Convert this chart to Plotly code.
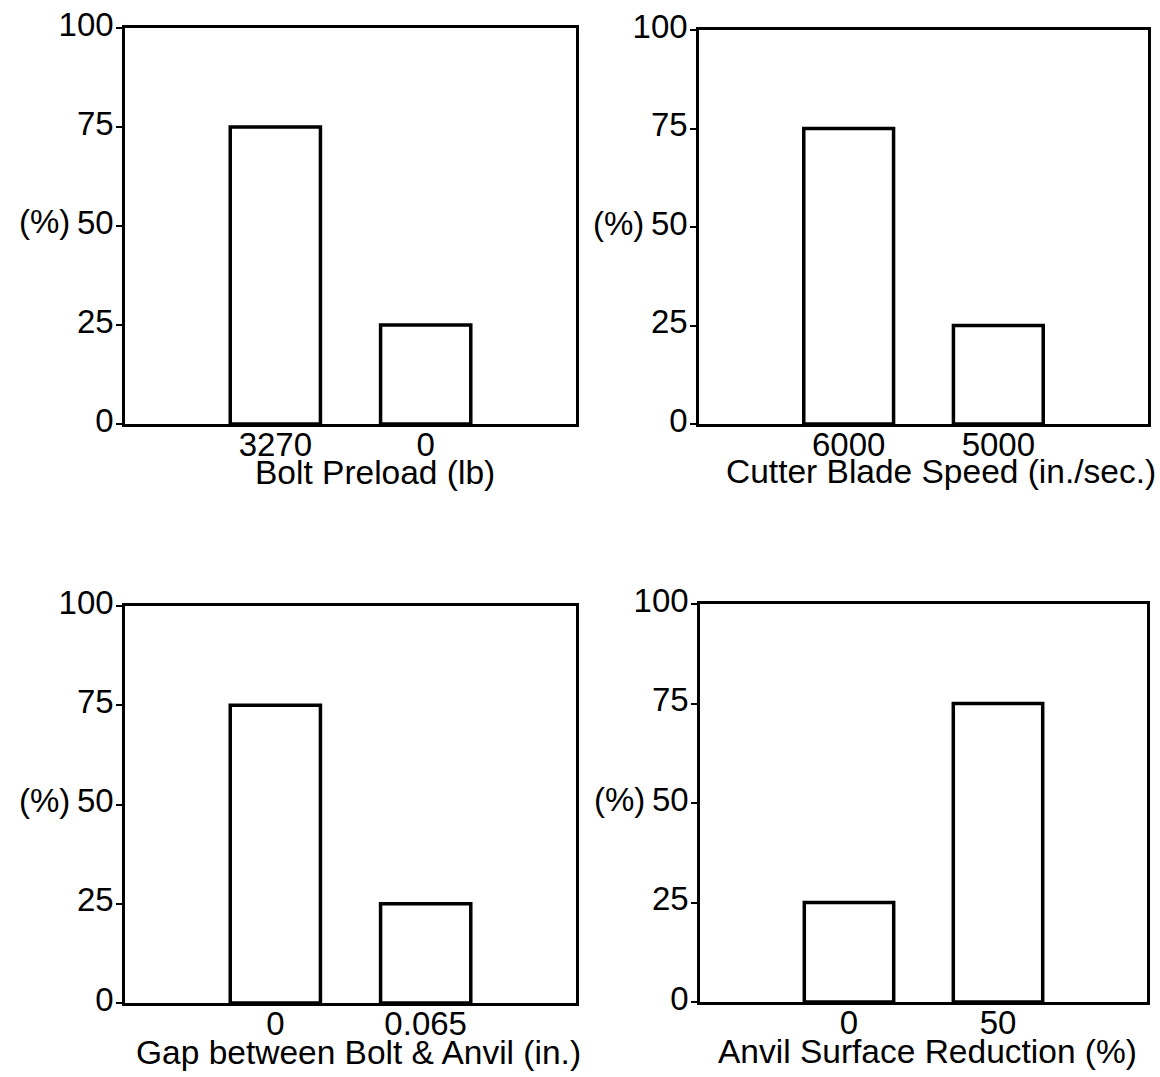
import plotly.graph_objects as go

# ---- data ----
panel_titles = [
    "Bolt Preload (lb)",
    "Cutter Blade Speed (in./sec.)",
    "Gap between Bolt & Anvil (in.)",
    "Anvil Surface Reduction (%)",
]
panel_categories = [
    ["3270", "0"],
    ["6000", "5000"],
    ["0", "0.065"],
    ["0", "50"],
]
panel_values = [
    [75, 25],
    [75, 25],
    [75, 25],
    [25, 75],
]
y_ticks = [0, 25, 50, 75, 100]
y_label = "(%)"

# ---- layout geometry (pixels of a 1160x1077 canvas) ----
W, H = 1160, 1077
boxes = [  # left, right, top, bottom
    (125, 576, 28, 424),
    (699, 1148, 30, 424),
    (125, 576, 606, 1003),
    (700, 1147, 604, 1002),
]
title_shift = [(24, 48), (17, 48), (8, 49), (4, 49)]

FONT = dict(family="Liberation Sans, Arial, Helvetica, sans-serif", size=33, color="black")
TFONT = dict(FONT, size=33.5)

fig = go.Figure()
layout = dict(
    width=W, height=H, autosize=False,
    margin=dict(l=0, r=0, t=0, b=0, pad=0),
    paper_bgcolor="white", plot_bgcolor="white",
    showlegend=False, font=FONT, annotations=[],
)

for i in range(4):
    n = "" if i == 0 else str(i + 1)
    l, r, t, b = boxes[i]
    fig.add_trace(go.Bar(
        x=panel_categories[i], y=panel_values[i],
        xaxis="x" + n, yaxis="y" + n,
        width=0.6,
        marker=dict(color="white", line=dict(color="black", width=3.5)),
        hoverinfo="x+y",
    ))
    layout["xaxis" + n] = dict(
        domain=[l / W, r / W], anchor="y" + n, type="category",
        range=[-1, 2], showline=True, mirror=True,
        linecolor="black", linewidth=2.5, showgrid=False, zeroline=False,
        ticks="", tickfont=FONT, fixedrange=True, automargin=False,
        ticklabelstandoff=-10,
    )
    layout["yaxis" + n] = dict(
        domain=[1 - b / H, 1 - t / H], anchor="x" + n,
        range=[0, 100], tickvals=y_ticks, ticktext=[str(v) for v in y_ticks],
        showline=True, mirror=True, linecolor="black", linewidth=2.5,
        showgrid=False, zeroline=False, ticks="outside", ticklen=6,
        tickwidth=2, tickcolor="black", tickfont=FONT, fixedrange=True,
        automargin=False, ticklabelshift=-4, ticklabelstandoff=-4,
    )
    layout["annotations"].append(dict(
        text=y_label, xref="x%s domain" % n, yref="y" + n,
        x=0, y=50, xanchor="right", yanchor="middle", xshift=-53, yshift=4,
        showarrow=False, font=FONT,
    ))
    dx, dy = title_shift[i]
    layout["annotations"].append(dict(
        text=panel_titles[i], xref="x%s domain" % n, yref="y%s domain" % n,
        x=0.5, y=0, xanchor="center", yanchor="middle",
        xshift=dx, yshift=-dy, showarrow=False, font=TFONT,
    ))

fig.update_layout(**layout)
fig.write_html("out.html", config={"displayModeBar": False},
               post_script="document.body.style.margin='0';")
